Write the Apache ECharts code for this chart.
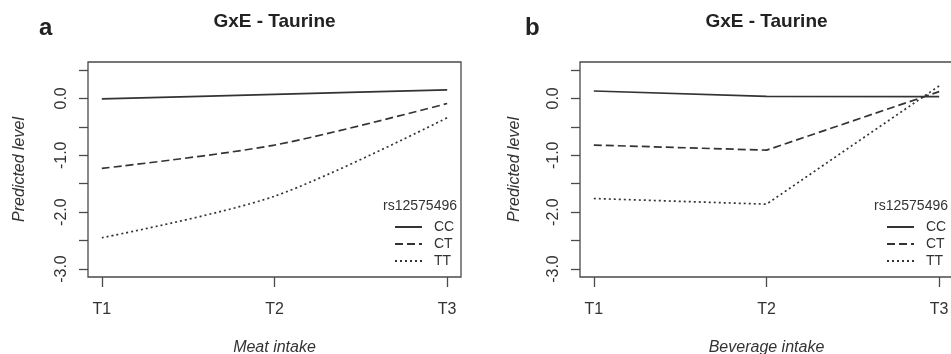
<!DOCTYPE html>
<html>
<head>
<meta charset="utf-8">
<script src="https://cdn.jsdelivr.net/npm/echarts@6/dist/echarts.min.js"></script>
<style>
html,body{margin:0;padding:0;background:#fff;}
#c{width:951px;height:354px;}
</style>
</head>
<body>
<div id="c"></div>
<script>
// ---- data ----
const categories = ['T1', 'T2', 'T3'];
const genotypes = ['CC', 'CT', 'TT'];
const legendTitle = 'rs12575496';
const panelTitle = 'GxE - Taurine';
const panelLetters = ['a', 'b'];
const xAxisNames = ['Meat intake', 'Beverage intake'];
const yAxisName = 'Predicted level';
// Panel a: meat intake
const meatCC = [-0.01, 0.07, 0.15];
const meatCT = [-1.23, -0.82, -0.09];
const meatTT = [-2.45, -1.72, -0.34];
// Panel b: beverage intake
const bevCC = [0.13, 0.035, 0.03];
const bevCT = [-0.82, -0.91, 0.12];
const bevTT = [-1.76, -1.86, 0.22];
// axis ticks
const yTickValues = [-3, -2.5, -2, -1.5, -1, -0.5, 0, 0.5];
const yLabelValues = [-3, -2, -1, 0];
const xTickValues = [1, 2, 3];

const FONT = '"Liberation Sans", Arial, Helvetica, sans-serif';
const INK = '#333';
const FRAME = '#4a4a4a';

const dashTypes = { CC: 'solid', CT: [8, 4], TT: [2, 3] };

const grids = [
  { left: 88, top: 62, width: 373, height: 215 },
  { left: 580, top: 62, width: 373, height: 215 }
];

function xAxisFor(i) {
  return {
    type: 'value', gridIndex: i, min: 0.92, max: 3.08, position: 'bottom',
    axisLine: { show: false, onZero: false },
    splitLine: { show: false },
    axisTick: { show: true, length: 10, customValues: xTickValues, lineStyle: { color: FRAME, width: 1.3 } },
    axisLabel: { customValues: xTickValues, margin: 25, fontSize: 16, color: INK, fontFamily: FONT,
      formatter: v => categories[Math.round(v) - 1] },
    name: xAxisNames[i], nameLocation: 'middle', nameGap: 63,
    nameTextStyle: { fontSize: 16, fontStyle: 'italic', color: INK, fontFamily: FONT }
  };
}
function yAxisFor(i) {
  return {
    type: 'value', gridIndex: i, min: -3.14, max: 0.64, position: 'left',
    axisLine: { show: false, onZero: false },
    splitLine: { show: false },
    axisTick: { show: true, length: 9, customValues: yTickValues, lineStyle: { color: FRAME, width: 1.3 } },
    axisLabel: { customValues: yLabelValues, rotate: 90, margin: 18, fontSize: 16, color: INK, fontFamily: FONT,
      formatter: v => v.toFixed(1) },
    name: yAxisName, nameLocation: 'middle', nameGap: i === 0 ? 60 : 57,
    nameTextStyle: { fontSize: 16, fontStyle: 'italic', color: INK, fontFamily: FONT }
  };
}

function mkSeries(name, values, idx, smooth) {
  return {
    type: 'line', name: name, xAxisIndex: idx, yAxisIndex: idx,
    data: values.map((v, k) => [k + 1, v]),
    symbol: 'none', smooth: smooth, silent: true,
    lineStyle: { color: INK, width: 1.7, type: dashTypes[name] },
    itemStyle: { color: INK },
    emphasis: { disabled: true }
  };
}

const series = [
  mkSeries('CC', meatCC, 0, 0.3), mkSeries('CT', meatCT, 0, 0.3), mkSeries('TT', meatTT, 0, 0.3),
  mkSeries('CC', bevCC, 1, false), mkSeries('CT', bevCT, 1, false), mkSeries('TT', bevTT, 1, false)
];

function legendFor(left) {
  return {
    orient: 'vertical', left: left, top: 220, padding: 0, itemWidth: 27, itemHeight: 14, itemGap: 3,
    selectedMode: false, data: genotypes,
    itemStyle: { color: 'rgba(0,0,0,0)', borderWidth: 0, opacity: 0 },
    textStyle: { fontSize: 14, color: INK, fontFamily: FONT, padding: [0, 0, 0, 7] }
  };
}

function txt(x, y, text, font, align, fill) {
  return { type: 'text', x: x, y: y, silent: true,
    style: { text: text, font: font, fill: fill || '#222', align: align, verticalAlign: 'middle' } };
}

const chart = echarts.init(document.getElementById('c'), null, { renderer: 'canvas' });
chart.setOption({
  animation: false,
  backgroundColor: '#fff',
  grid: grids.map(g => Object.assign({ show: true, borderColor: FRAME, borderWidth: 1.3, backgroundColor: 'transparent', outerBoundsMode: 'none', containLabel: false }, g)),
  xAxis: [xAxisFor(0), xAxisFor(1)],
  yAxis: [yAxisFor(0), yAxisFor(1)],
  legend: [legendFor(394), legendFor(886)],
  series: series,
  graphic: [
    txt(39, 28, panelLetters[0], 'bold 24px ' + FONT, 'left'),
    txt(525, 28, panelLetters[1], 'bold 24px ' + FONT, 'left'),
    txt(274.5, 22, panelTitle, 'bold 19px ' + FONT, 'center'),
    txt(766.5, 22, panelTitle, 'bold 19px ' + FONT, 'center'),
    txt(457, 206, legendTitle, '14px ' + FONT, 'right', INK),
    txt(948, 206, legendTitle, '14px ' + FONT, 'right', INK)
  ]
});
</script>
</body>
</html>
